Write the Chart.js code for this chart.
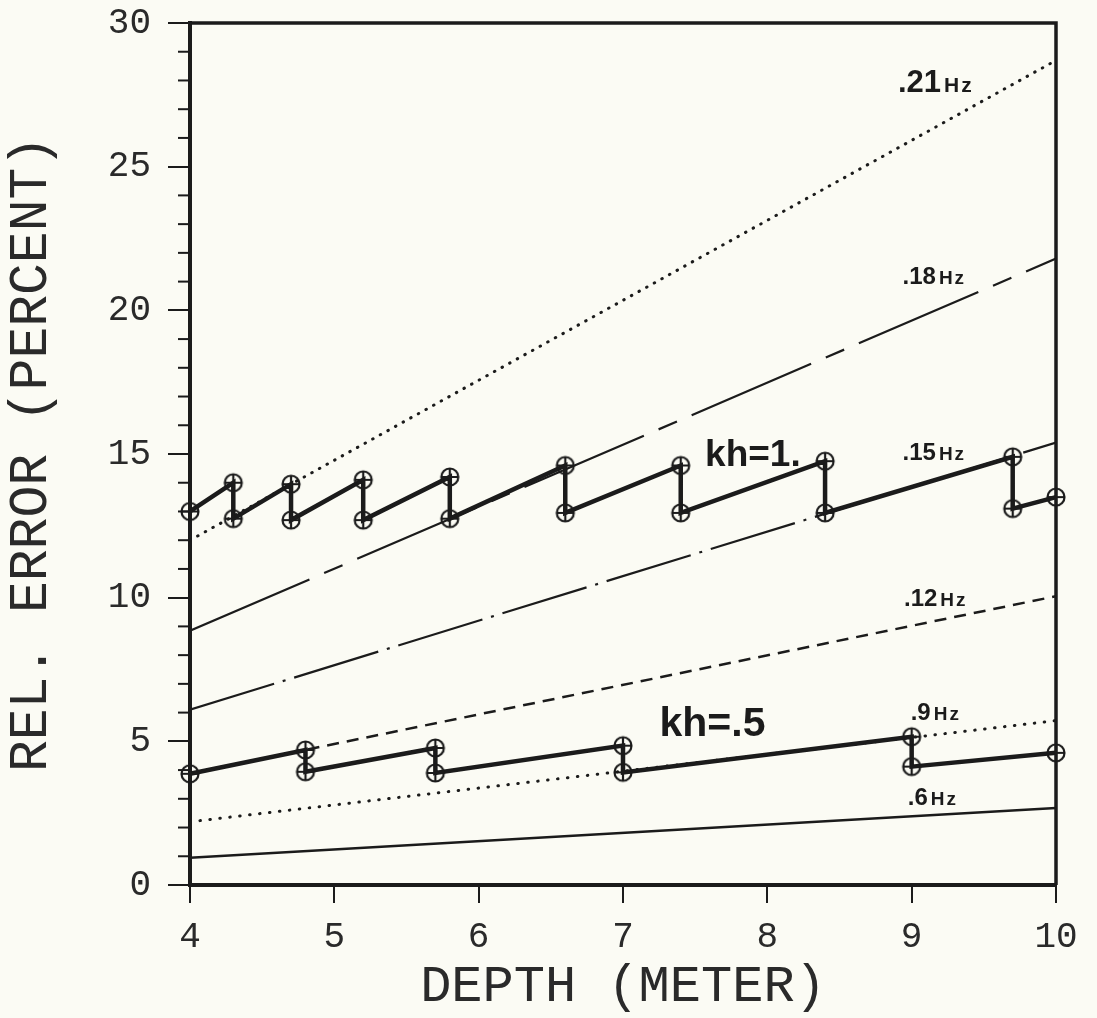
<!DOCTYPE html>
<html>
<head>
<meta charset="utf-8">
<script src="https://cdn.jsdelivr.net/npm/chart.js@4.4.0/dist/chart.umd.min.js"></script>
<style>
  html, body { margin: 0; background: #fbfbf4; }
</style>
</head>
<body>
<canvas id="errChart" width="1097" height="1018"></canvas>
<script>
// straight frequency lines, value at depth 4 and at depth 10
const depthEnds = [4, 10];
const freqLabels = ['.21', '.18', '.15', '.12', '.9', '.6'];
const errAt4  = [12.0, 8.85, 6.1, 3.88, 2.2, 0.95];
const errAt10 = [28.7, 21.8, 15.4, 10.05, 5.72, 2.68];

// kh = 1 sawtooth
const depthKh1 = [4, 4.3, 4.3, 4.7, 4.7, 5.2, 5.2, 5.8, 5.8, 6.6, 6.6, 7.4, 7.4, 8.4, 8.4, 9.7, 9.7, 10];
const errKh1   = [13.0, 14.0, 12.75, 13.95, 12.7, 14.1, 12.7, 14.2, 12.75, 14.6, 12.95, 14.6, 12.95, 14.75, 12.95, 14.9, 13.1, 13.5];

// kh = .5 sawtooth
const depthKh05 = [4, 4.8, 4.8, 5.7, 5.7, 7, 7, 9, 9, 10];
const errKh05   = [3.87, 4.7, 3.94, 4.77, 3.9, 4.85, 3.92, 5.16, 4.12, 4.6];

const yTicks = [0, 5, 10, 15, 20, 25, 30];

const ink = '#1b1b1b';
const plotFont = "'Liberation Mono', 'DejaVu Sans Mono', monospace";
const narrowFont = "'Liberation Sans Narrow', 'Liberation Sans', sans-serif";
const boldFont = "'Liberation Sans', Arial, sans-serif";

// line look per frequency line
const freqDash = [[0.5, 8.2], [130, 16, 20, 16], [88, 9, 3, 9], [12, 8], [0.5, 9.5], []];
const freqWidth = [3, 2.2, 2.2, 2.5, 3, 2.5];
const freqCap = ['round', 'butt', 'butt', 'butt', 'round', 'butt'];

// circle with a plus inside, used as point style
function makeMarker() {
  const c = document.createElement('canvas');
  c.width = 22; c.height = 22;
  const g = c.getContext('2d');
  g.strokeStyle = ink;
  g.lineWidth = 2.2;
  g.beginPath(); g.arc(11, 11, 8.5, 0, Math.PI * 2); g.stroke();
  g.beginPath(); g.moveTo(2.5, 11); g.lineTo(19.5, 11); g.moveTo(11, 2.5); g.lineTo(11, 19.5); g.stroke();
  return c;
}
const marker = makeMarker();

function pairs(xs, ys) {
  return xs.map((v, i) => ({ x: v, y: ys[i] }));
}

const datasets = [
  {
    label: 'kh=1',
    data: pairs(depthKh1, errKh1),
    borderColor: ink, borderWidth: 4.5,
    pointStyle: marker, pointRadius: 9,
    clip: false
  },
  {
    label: 'kh=.5',
    data: pairs(depthKh05, errKh05),
    borderColor: ink, borderWidth: 4.5,
    pointStyle: marker, pointRadius: 9,
    clip: false
  }
];

freqLabels.forEach((name, i) => {
  datasets.push({
    label: name + 'Hz',
    data: pairs(depthEnds, [errAt4[i], errAt10[i]]),
    borderColor: ink,
    borderWidth: freqWidth[i],
    borderDash: freqDash[i],
    borderCapStyle: freqCap[i],
    pointRadius: 0
  });
});

// text written on the plot, in data units
const hzNotes = [
  { x: 9.16, y: 28.0, big: true },
  { x: 9.15, y: 21.2 },
  { x: 9.15, y: 15.08 },
  { x: 9.16, y: 10.0 },
  { x: 9.16, y: 6.06 },
  { x: 9.14, y: 3.1 }
];
const khNotes = [
  { text: 'kh=1.', x: 7.9, y: 14.95, size: 37 },
  { text: 'kh=.5', x: 7.62, y: 5.57, size: 41 }
];

const paper = {
  id: 'paper',
  beforeDraw(chart) {
    const ctx = chart.ctx;
    ctx.save();
    ctx.fillStyle = '#fbfbf4';
    ctx.fillRect(0, 0, chart.width, chart.height);
    ctx.restore();
  }
};

const frame = {
  id: 'frame',
  afterDraw(chart) {
    const { ctx, chartArea: a, scales: { y } } = chart;
    ctx.save();
    ctx.strokeStyle = ink;
    ctx.lineWidth = 3.5;
    ctx.beginPath();
    ctx.moveTo(a.left, a.top);
    ctx.lineTo(a.right, a.top);
    ctx.lineTo(a.right, a.bottom);
    ctx.stroke();
    // minor ticks on the y axis, one per unit
    ctx.lineWidth = 2;
    for (let v = y.min; v <= y.max; v++) {
      if (v % 5 === 0) continue;
      const py = y.getPixelForValue(v);
      ctx.beginPath();
      ctx.moveTo(a.left - 12, py);
      ctx.lineTo(a.left, py);
      ctx.stroke();
    }
    ctx.restore();
  }
};

const notePlugin = {
  id: 'notes',
  afterDatasetsDraw(chart) {
    const { ctx, scales: { x, y } } = chart;
    ctx.save();
    ctx.fillStyle = ink;
    ctx.textBaseline = 'alphabetic';
    ctx.textAlign = 'left';
    hzNotes.forEach((n, i) => {
      const num = freqLabels[i];
      const numSize = n.big ? 31 : 24;
      const hzSize = n.big ? 21 : 19;
      const hzGap = 2;
      ctx.font = "bold " + numSize + "px " + narrowFont;
      const w1 = ctx.measureText(num).width;
      ctx.font = "bold " + hzSize + "px " + boldFont;
      const wH = ctx.measureText('H').width;
      const w2 = wH + ctx.measureText('z').width + hzGap;
      const left = x.getPixelForValue(n.x) - (w1 + 3 + w2) / 2;
      const base = y.getPixelForValue(n.y) + numSize * 0.36;
      ctx.font = "bold " + numSize + "px " + narrowFont;
      ctx.fillText(num, left, base);
      ctx.font = "bold " + hzSize + "px " + boldFont;
      const hx = left + w1 + 3;
      ctx.fillText('H', hx, base);
      ctx.fillText('z', hx + wH + hzGap, base);
    });
    ctx.textAlign = 'center';
    ctx.textBaseline = 'middle';
    khNotes.forEach(n => {
      ctx.font = "bold " + n.size + "px " + boldFont;
      ctx.fillText(n.text, x.getPixelForValue(n.x), y.getPixelForValue(n.y));
    });
    ctx.restore();
  }
};

const ctx = document.getElementById('errChart').getContext('2d');
new Chart(ctx, {
  type: 'line',
  data: { datasets: datasets },
  options: {
    responsive: false,
    animation: false,
    layout: { padding: { top: 23, right: 41, left: 0, bottom: 0 } },
    plugins: { legend: { display: false }, tooltip: { enabled: false } },
    elements: { line: { tension: 0 } },
    scales: {
      x: {
        type: 'linear',
        min: 4, max: 10,
        afterFit: s => { s.height = 133; s.paddingLeft = 0; s.paddingRight = 0; },
        ticks: { stepSize: 1, color: '#2a2a2a', padding: 13, font: { family: plotFont, size: 36 } },
        grid: { drawOnChartArea: false, drawTicks: true, tickLength: 18, color: ink, lineWidth: 2 },
        border: { display: true, color: ink, width: 4 },
        title: { display: true, text: 'DEPTH (METER)', color: '#2a2a2a', padding: 0, font: { family: plotFont, size: 52 } }
      },
      y: {
        type: 'linear',
        min: 0, max: 30,
        afterFit: s => { s.width = 190; s.paddingTop = 0; s.paddingBottom = 0; },
        afterBuildTicks: s => { s.ticks = yTicks.map(v => ({ value: v })); },
        ticks: { color: '#2a2a2a', padding: 17, font: { family: plotFont, size: 36 } },
        grid: { drawOnChartArea: false, drawTicks: true, tickLength: 22, color: ink, lineWidth: 2 },
        border: { display: true, color: ink, width: 4 },
        title: { display: true, text: 'REL. ERROR (PERCENT)', color: '#2a2a2a', padding: 0, font: { family: plotFont, size: 53 } }
      }
    }
  },
  plugins: [paper, frame, notePlugin]
});
</script>
</body>
</html>
